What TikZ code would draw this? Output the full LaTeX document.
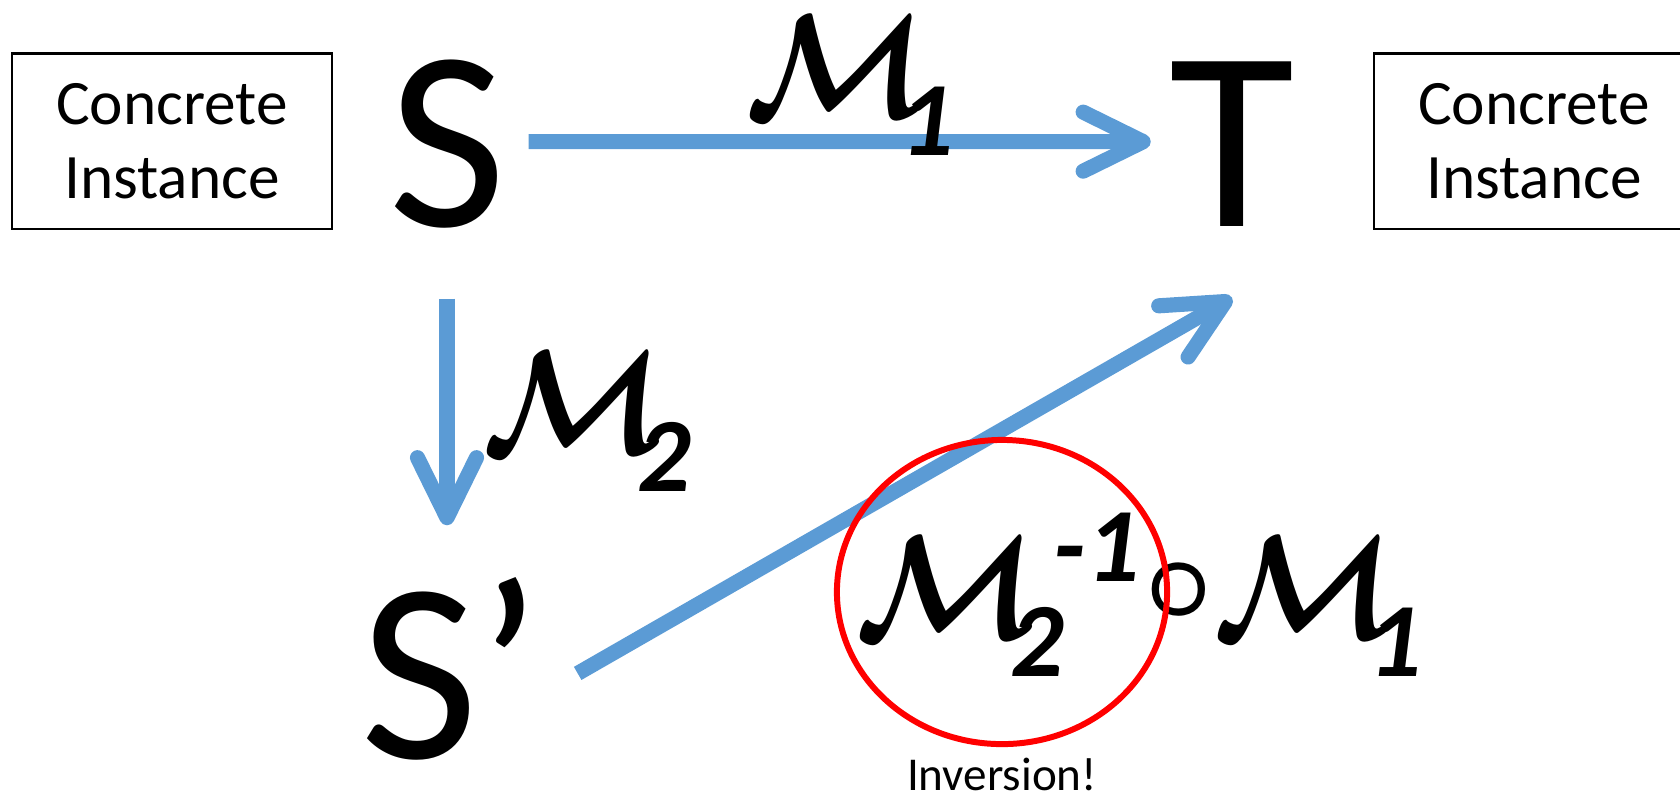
\RequirePackage{fix-cm}
\documentclass[tikz,border=0pt]{standalone}
\usepackage{amsmath,amssymb}
\usepackage{fontspec}
\setmainfont{Carlito}
\usetikzlibrary{arrows.meta,shapes.geometric,positioning}

\definecolor{flowblue}{HTML}{5B9BD5}
% script M with its index digits
\newcommand{\glyphM}{\makebox[1.55cm][l]{\scalebox{0.9}[1]{$\boldsymbol{\mathcal{M}}$}}}
\newcommand{\idxfont}{\fontsize{30}{30}\selectfont\bfseries\itshape}
\newcommand{\idx}[1]{\raisebox{-11pt}{\idxfont #1}}
\newcommand{\mop}[1]{\glyphM\idx{#1}}

\begin{document}
\begin{tikzpicture}[x=0.01cm,y=-0.01cm,
  flow/.style={line width=4.3pt,flowblue,-{Straight Barb[length=6mm,width=5.9mm,round]}},
  letter/.style={inner sep=0pt,font=\fontsize{73}{80}\selectfont},
  instbox/.style={draw,line width=0.6pt,minimum width=3.2cm,minimum height=1.75cm,align=center,font=\fontsize{18}{21}\selectfont},
  mlabel/.style={inner sep=0pt,font=\fontsize{42}{50}\selectfont},
  ring/.style={ellipse,draw=red,line width=1.7pt,minimum width=3.3cm,minimum height=3.04cm,inner sep=0pt}]
  \clip (0,0) rectangle (1680,796);
  \node[instbox] (cl) at (172,141) {Concrete\\Instance};
  \node[instbox] (cr) at (1534,141) {Concrete\\Instance};
  \node[letter,anchor=base] (S) at (447,226) {S};
  \node[letter,anchor=base] (T) at (1232,226) {T};
  \node[letter,anchor=base west] (Sp) at (360,758) {S’};
  \draw[flow,shorten <=2.2mm,shorten >=1.8mm] ([yshift=0.2mm]S.east) -- ([yshift=0.2mm]T.west);
  \draw[flow,shorten <=7mm,shorten >=5.1mm] (S.south) -- (S.south |- Sp.north);
  \draw[flow] ([xshift=3.6mm,yshift=-0.5mm]Sp.east) -- ([yshift=-7.1mm]T.south);
  \node[mlabel,anchor=base west] (m1) at (745,117) {\mop{1}};
  \node[mlabel,anchor=base west] (m2) at (482,453) {\mop{2}};
  \node[mlabel,anchor=base west] (mc) at (855,638)
    {\mop{2}\kern-3pt\raisebox{16pt}{\idxfont -1}\kern1.5pt\raisebox{5.4pt}{\fontsize{34}{34}\selectfont$\boldsymbol{\circ}$}\mop{1}};
  \node[ring] (inv) at (1002,592) {};
  \node[below=1mm of inv,inner sep=0pt,font=\fontsize{13.4}{16}\selectfont] (invtext) {Inversion!};
\end{tikzpicture}
\end{document}
